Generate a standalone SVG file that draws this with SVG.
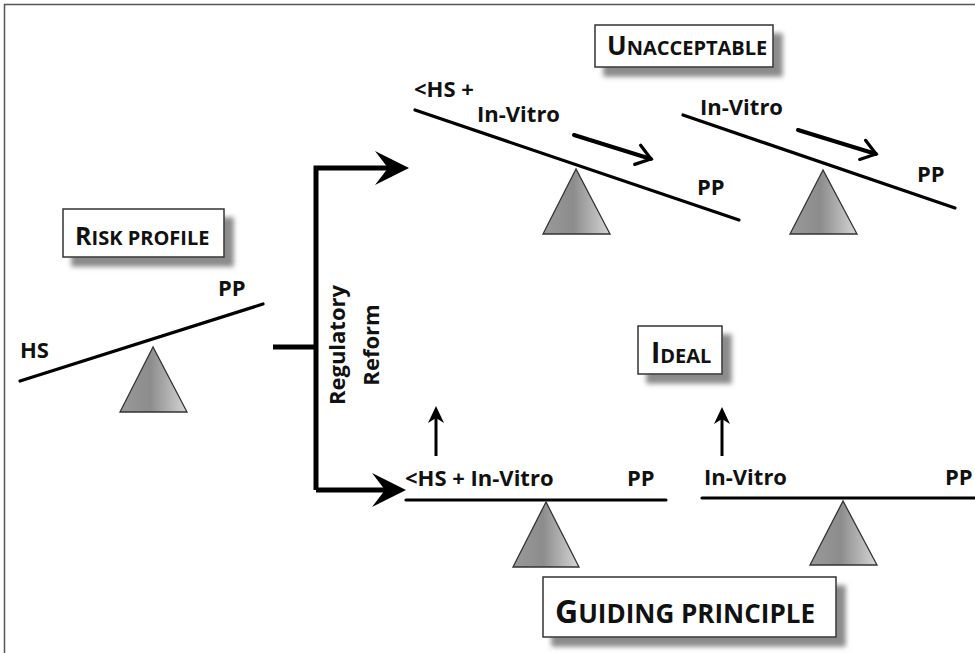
<svg xmlns="http://www.w3.org/2000/svg" width="975" height="653" viewBox="0 0 975 653">
  <style>
    .lbl { font-family: "Open Sans", "Liberation Sans", sans-serif; font-weight: 700; font-size: 22px; fill: #111; }
    .title { font-family: "Open Sans", "Liberation Sans", sans-serif; font-weight: 700; fill: #111; }
    .box { fill: #fff; stroke: #333; stroke-width: 1.5; }
    .beam { stroke: #000; stroke-width: 3.2; fill: none; stroke-linecap: round; }
    .fulcrum { fill: url(#tri); stroke: #333; stroke-width: 1.3; stroke-linejoin: miter; }
    .conn { stroke: #000; stroke-width: 5; fill: none; }
    .diag { stroke: #000; stroke-width: 4; fill: none; stroke-linecap: round; }
    .up { stroke: #000; stroke-width: 3; fill: none; }
  </style>
  <defs>
    <linearGradient id="tri" x1="0" y1="0" x2="1" y2="0">
      <stop offset="0" stop-color="#9a9a9a"/>
      <stop offset="0.45" stop-color="#8c8c8c"/>
      <stop offset="1" stop-color="#d6d6d6"/>
    </linearGradient>
    <filter id="shadow" x="-20%" y="-30%" width="150%" height="180%">
      <feGaussianBlur in="SourceAlpha" stdDeviation="2.5" result="b"/>
      <feOffset in="b" dx="9" dy="9" result="o"/>
      <feFlood flood-color="#777" flood-opacity="0.85"/>
      <feComposite in2="o" operator="in" result="s"/>
      <feMerge><feMergeNode in="s"/><feMergeNode in="SourceGraphic"/></feMerge>
    </filter>
    <marker id="chev" viewBox="0 0 12 12" refX="10" refY="6" markerWidth="6" markerHeight="6" orient="auto" markerUnits="strokeWidth">
      <path d="M3,1 L10,6 L3,11" fill="none" stroke="#000" stroke-width="1.6" stroke-linecap="round" stroke-linejoin="miter"/>
    </marker>
  </defs>

  <rect x="0" y="0" width="975" height="653" fill="#fff"/>
  <rect x="4.5" y="4.5" width="1000" height="700" fill="none" stroke="#555" stroke-width="1.5"/>

  <!-- Title boxes -->
  <g id="unacceptable">
    <rect class="box" x="595" y="25" width="178" height="42" filter="url(#shadow)"/>
    <text class="title" x="607" y="55"><tspan font-size="26">U</tspan><tspan font-size="20">NACCEPTABLE</tspan></text>
  </g>
  <g id="risk-profile">
    <rect class="box" x="63" y="209" width="161" height="48" filter="url(#shadow)"/>
    <text class="title" x="75" y="245"><tspan font-size="25">R</tspan><tspan font-size="20">ISK PROFILE</tspan></text>
  </g>
  <g id="ideal">
    <rect class="box" x="638" y="326" width="84" height="48" filter="url(#shadow)"/>
    <text class="title" x="651" y="363"><tspan font-size="28">I</tspan><tspan font-size="20">DEAL</tspan></text>
  </g>
  <g id="guiding-principle">
    <rect class="box" x="543" y="577" width="293" height="60" filter="url(#shadow)"/>
    <text class="title" x="555" y="623"><tspan font-size="32">G</tspan><tspan font-size="26">UIDING PRINCIPLE</tspan></text>
  </g>

  <!-- Balances -->
  <g id="balance-risk">
    <line class="beam" x1="20" y1="381" x2="263" y2="304"/>
    <polygon class="fulcrum" points="153,347 120,412 187,412"/>
    <text class="lbl" x="20" y="358">HS</text>
    <text class="lbl" x="218" y="296">PP</text>
  </g>

  <g id="balance-unacc-1">
    <line class="beam" x1="415" y1="110" x2="739" y2="220"/>
    <polygon class="fulcrum" points="576,169 543,234 610,234"/>
    <text class="lbl" x="414" y="97">&lt;HS +</text>
    <text class="lbl" x="477" y="122">In-Vitro</text>
    <text class="lbl" x="697" y="195">PP</text>
  </g>

  <g id="balance-unacc-2">
    <line class="beam" x1="683" y1="115" x2="955" y2="208"/>
    <polygon class="fulcrum" points="823,170 790,234 857,234"/>
    <text class="lbl" x="700" y="115">In-Vitro</text>
    <text class="lbl" x="917" y="182">PP</text>
  </g>

  <g id="balance-ideal-1">
    <line class="beam" x1="406" y1="500" x2="666" y2="500"/>
    <polygon class="fulcrum" points="546,502 513,567 579,567"/>
    <text class="lbl" x="405" y="486">&lt;HS + In-Vitro</text>
    <text class="lbl" x="627" y="486">PP</text>
  </g>

  <g id="balance-ideal-2">
    <line class="beam" x1="702" y1="498" x2="990" y2="498"/>
    <polygon class="fulcrum" points="843,501 810,565 877,565"/>
    <text class="lbl" x="704" y="485">In-Vitro</text>
    <text class="lbl" x="945" y="485">PP</text>
  </g>

  <!-- Connectors -->
  <g id="connectors">
    <path class="conn" d="M273,347 H316"/>
    <path class="conn" d="M316,490 V168 H392"/>
    <path class="conn" d="M316,490 H390"/>
    <polygon points="409,168 375,151 388,168 375,185" fill="#000"/>
    <polygon points="406,490 372,473 385,490 372,507" fill="#000"/>

    <line class="diag" x1="574" y1="135" x2="651" y2="159" marker-end="url(#chev)"/>
    <line class="diag" x1="798" y1="130" x2="876" y2="154" marker-end="url(#chev)"/>

    <line class="up" x1="436" y1="456" x2="436" y2="414"/>
    <polygon points="436,406 428,423 436,418 444,423" fill="#000"/>
    <line class="up" x1="722" y1="456" x2="722" y2="415"/>
    <polygon points="722,407 714,424 722,419 730,424" fill="#000"/>
  </g>

  <g id="regulatory-reform">
    <text class="lbl" font-weight="600" font-size="23" text-anchor="middle" transform="translate(345,345) rotate(-90)">Regulatory</text>
    <text class="lbl" font-weight="600" font-size="23" text-anchor="middle" transform="translate(379,345) rotate(-90)">Reform</text>
  </g>
</svg>
